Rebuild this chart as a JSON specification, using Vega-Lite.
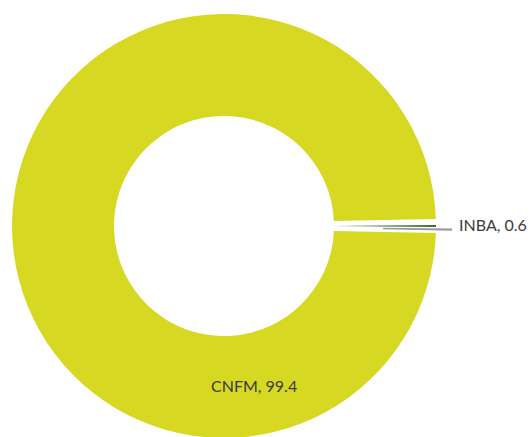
{
  "$schema": "https://vega.github.io/schema/vega-lite/v6.json",
  "autosize": "none",
  "width": 448,
  "height": 452,
  "padding": {"left": 0, "top": 0, "right": 83, "bottom": 0},
  "background": "white",
  "view": {"stroke": null},
  "data": {"values": [
    {"name": "INBA", "value": 0.6, "label": "INBA, 0.6"},
    {"name": "CNFM", "value": 99.4, "label": "CNFM, 99.4"}
  ]},
  "layer": [
    {
      "mark": {"type": "arc", "innerRadius": 110, "outerRadius": 212, "padAngle": 0.025},
      "encoding": {
        "theta": {"field": "value", "type": "quantitative", "stack": true,
          "scale": {"domain": [0, 100], "range": [1.55195, 7.83514]}},
        "order": {"field": "value", "type": "quantitative", "sort": "ascending"},
        "color": {"field": "name", "type": "nominal",
          "scale": {"domain": ["INBA", "CNFM"], "range": ["#3b6b34", "#d7d822"]},
          "legend": null}
      }
    },
    {
      "transform": [{"filter": "datum.name === 'INBA'"}],
      "mark": {"type": "arc", "innerRadius": 159, "outerRadius": 228, "color": "#9a9a9a"},
      "encoding": {
        "theta": {"field": "value", "type": "quantitative", "stack": true,
          "scale": {"domain": [0, 0.6], "range": [1.5815, 1.5915]}}
      }
    },
    {
      "mark": {"type": "text", "align": "left", "baseline": "middle", "font": "Lato", "fontSize": 16, "color": "#3a3a3a"},
      "encoding": {
        "theta": {"field": "value", "type": "quantitative", "stack": null,
          "scale": {"domain": [0, 100], "range": [1.5608, 3.2321]}},
        "radius": {"field": "value", "type": "quantitative",
          "scale": {"type": "linear", "zero": false, "domain": [0.6, 99.4], "range": [235, 161.5]}},
        "text": {"field": "label", "type": "nominal"}
      }
    }
  ],
  "resolve": {"scale": {"theta": "independent", "radius": "independent"}}
}
